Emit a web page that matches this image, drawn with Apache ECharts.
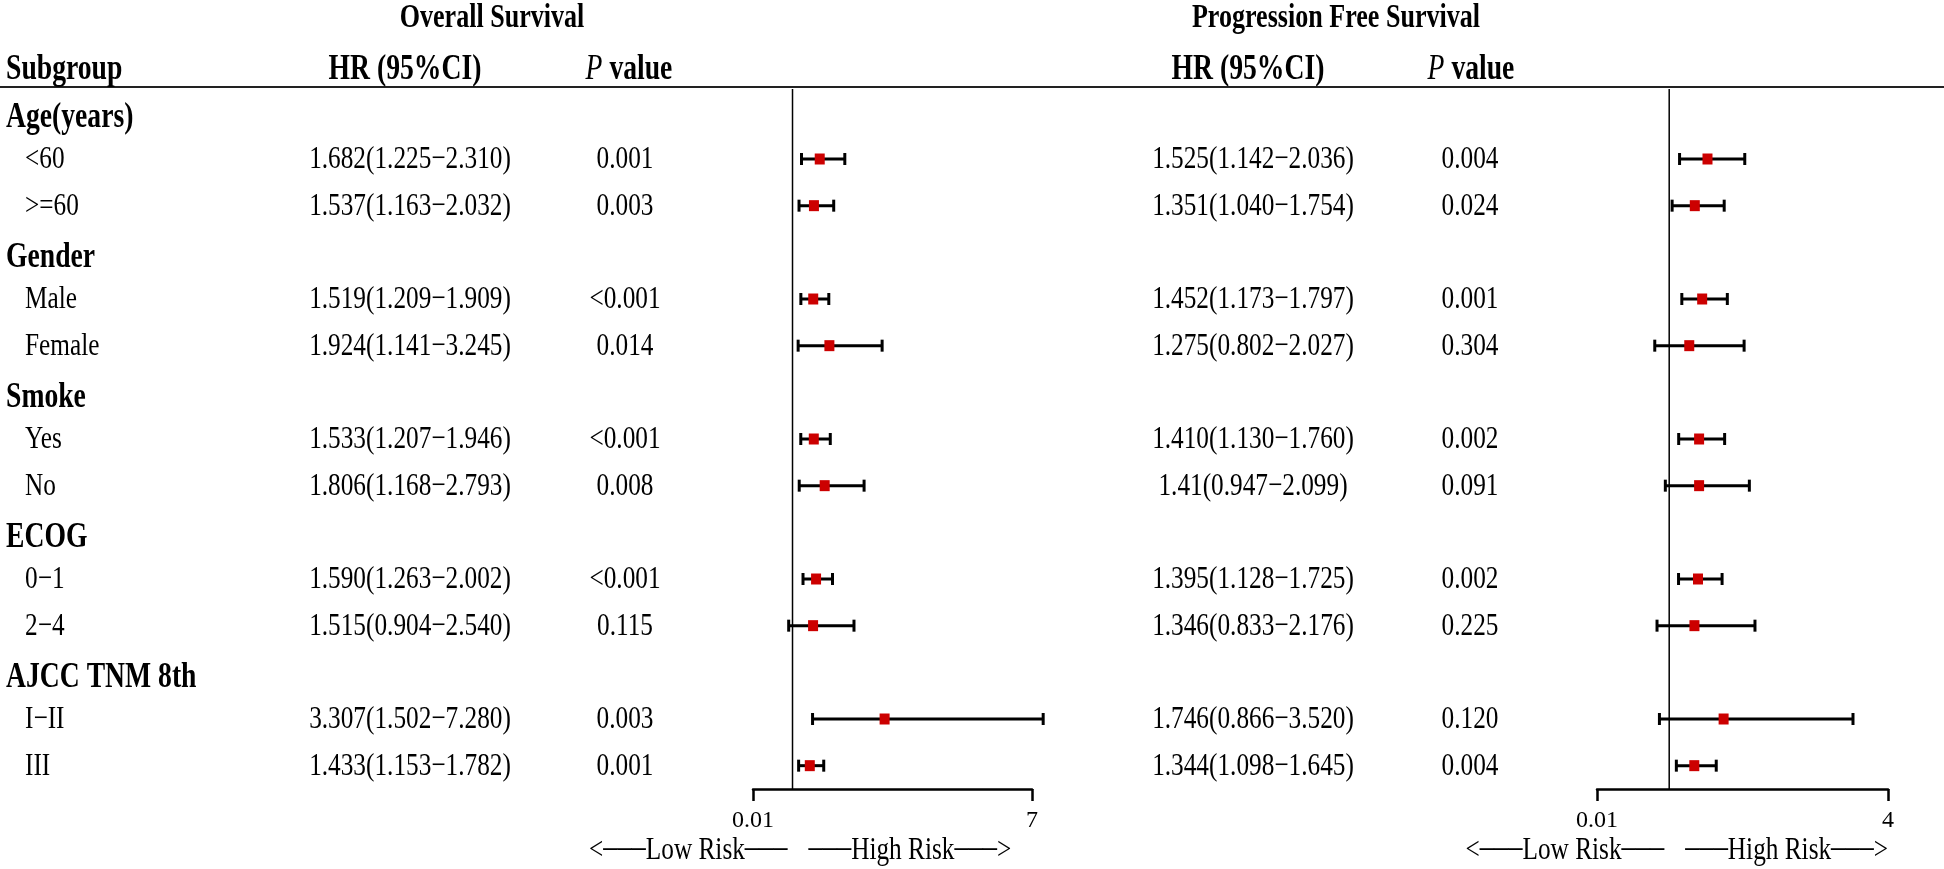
<!DOCTYPE html>
<html><head><meta charset="utf-8">
<script src="https://cdn.jsdelivr.net/npm/echarts@6/dist/echarts.min.js"></script>
<style>html,body{margin:0;padding:0;background:#fff}#c{width:1944px;height:869px}</style>
</head><body><div id="c"></div>
<script>
// ---------- data ----------
const groupNames = ['Age(years)', 'Gender', 'Smoke', 'ECOG', 'AJCC TNM 8th'];
const subgroups  = ['<60', '>=60', 'Male', 'Female', 'Yes', 'No', '0\u22121', '2\u22124', 'I\u2212II', 'III'];
const osHR   = ['1.682','1.537','1.519','1.924','1.533','1.806','1.590','1.515','3.307','1.433'];
const osLow  = ['1.225','1.163','1.209','1.141','1.207','1.168','1.263','0.904','1.502','1.153'];
const osHigh = ['2.310','2.032','1.909','3.245','1.946','2.793','2.002','2.540','7.280','1.782'];
const osP    = ['0.001','0.003','<0.001','0.014','<0.001','0.008','<0.001','0.115','0.003','0.001'];
const pfsHR   = ['1.525','1.351','1.452','1.275','1.410','1.41','1.395','1.346','1.746','1.344'];
const pfsLow  = ['1.142','1.040','1.173','0.802','1.130','0.947','1.128','0.833','0.866','1.098'];
const pfsHigh = ['2.036','1.754','1.797','2.027','1.760','2.099','1.725','2.176','3.520','1.645'];
const pfsP    = ['0.004','0.024','0.001','0.304','0.002','0.091','0.002','0.225','0.120','0.004'];
const osTicks  = [0.01, 7];
const pfsTicks = [0.01, 4];
const refValue = 1;

// ---------- layout ----------
const W = 1944, TOP = 89, H = 700, NROWS = 15;
const FONT = '"Liberation Serif","Times New Roman",serif';
const SX = 0.79;
const OS_L = 753, OS_W = 279, PFS_L = 1597, PFS_W = 291;
const rowOfGroup = g => g * 3;
const rowOfSub = i => Math.floor(i / 2) * 3 + 1 + (i % 2);
const MINUS = '\u2212';
const ciText = (hr, lo, hi, i) => hr[i] + '(' + lo[i] + MINUS + hi[i] + ')';

const colX = { group: 6, sub: 25, osHR: 410, osP: 625, pfsHR: 1253, pfsP: 1470 };
const textItems = [];
groupNames.forEach((g, gi) => textItems.push({ col: 'group', row: rowOfGroup(gi), text: g, bold: true }));
subgroups.forEach((s, i) => {
  const r = rowOfSub(i);
  textItems.push({ col: 'sub', row: r, text: s });
  textItems.push({ col: 'osHR', row: r, text: ciText(osHR, osLow, osHigh, i) });
  textItems.push({ col: 'osP', row: r, text: osP[i] });
  textItems.push({ col: 'pfsHR', row: r, text: ciText(pfsHR, pfsLow, pfsHigh, i) });
  textItems.push({ col: 'pfsP', row: r, text: pfsP[i] });
});

function textRender(params, api) {
  const t = textItems[params.dataIndex];
  const y = api.coord([0, api.value(1)])[1] + (t.bold ? 6 : 1);
  const left = (t.col === 'group' || t.col === 'sub');
  return {
    type: 'text', x: colX[t.col], y: y, scaleX: SX,
    style: {
      text: t.text, fill: '#000',
      font: (t.bold ? 'bold 35px ' : '32px ') + FONT,
      align: left ? 'left' : 'center', verticalAlign: 'middle'
    }
  };
}

function errRender(params, api) {
  const r = api.value(2);
  const lo = api.coord([api.value(0), r]);
  const hi = api.coord([api.value(1), r]);
  const y = lo[1], st = { stroke: '#000', lineWidth: 3 };
  return { type: 'group', children: [
    { type: 'line', shape: { x1: lo[0], y1: y, x2: hi[0], y2: y }, style: st },
    { type: 'line', shape: { x1: lo[0], y1: y - 6, x2: lo[0], y2: y + 6 }, style: st },
    { type: 'line', shape: { x1: hi[0], y1: y - 6, x2: hi[0], y2: y + 6 }, style: st }
  ]};
}

const errData = (lo, hi) => subgroups.map((s, i) => [Number(lo[i]), Number(hi[i]), rowOfSub(i)]);
const ptData = (hr) => subgroups.map((s, i) => [Number(hr[i]), rowOfSub(i)]);

function forestX(idx, ticks) {
  return {
    type: 'value', gridIndex: idx, min: ticks[0], max: ticks[ticks.length - 1], position: 'bottom',
    axisLine: { show: true, onZero: false, lineStyle: { color: '#000', width: 2.5 } },
    axisTick: { show: true, customValues: ticks, length: 12, inside: false, lineStyle: { color: '#000', width: 2.5 } },
    axisLabel: { show: true, customValues: ticks, margin: 20, color: '#000', fontSize: 24, fontFamily: FONT,
                 formatter: v => String(v) },
    splitLine: { show: false }
  };
}
function rowY(idx) {
  return { type: 'value', gridIndex: idx, min: -0.5, max: NROWS - 0.5, inverse: true, show: false };
}

const refPx = (L, Wd, ticks) => L + (refValue - ticks[0]) / (ticks[ticks.length - 1] - ticks[0]) * Wd;
const osRef = refPx(OS_L, OS_W, osTicks), pfsRef = refPx(PFS_L, PFS_W, pfsTicks);

function gtext(x, y, text, font, align, extra) {
  return Object.assign({ type: 'text', x: x, y: y, scaleX: SX,
    style: { text: text, font: font, fill: '#000', align: align, verticalAlign: 'middle' } }, extra || {});
}
const BOLD = 'bold 35px ' + FONT, REG = '32px ' + FONT;
const pRich = {
  i: { fontStyle: 'italic', fontSize: 35, fontFamily: FONT, fill: '#000' },
  b: { fontWeight: 'bold', fontSize: 35, fontFamily: FONT, fill: '#000' }
};
function pHeader(x) {
  return { type: 'text', x: x, y: 70, scaleX: SX,
    style: { text: '{i|P}{b| value}', rich: pRich, align: 'center', verticalAlign: 'middle' } };
}
const arrowRich = {
  t: { fontSize: 32, fontFamily: FONT, fill: '#000', verticalAlign: 'middle' },
  d: { fontSize: 36, fontFamily: FONT, fill: '#000', verticalAlign: 'middle', padding: [0, 0, 4, 0] }
};
const DASH = '{d|\u2013\u2013\u2013}';
function arrowText(x, y, text, align) {
  return { type: 'text', x: x, y: y, scaleX: SX,
    style: { text: text, rich: arrowRich, align: align, verticalAlign: 'middle' } };
}

const chart = echarts.init(document.getElementById('c'), null, { renderer: 'canvas' });
chart.setOption({
  animation: false,
  backgroundColor: '#fff',
  grid: [
    { left: 0, top: TOP, width: W, height: H },
    { left: OS_L, top: TOP, width: OS_W, height: H },
    { left: PFS_L, top: TOP, width: PFS_W, height: H }
  ],
  xAxis: [
    { type: 'value', gridIndex: 0, min: 0, max: W, show: false },
    forestX(1, osTicks),
    forestX(2, pfsTicks)
  ],
  yAxis: [rowY(0), rowY(1), rowY(2)],
  graphic: [
    { type: 'line', shape: { x1: 0, y1: 87, x2: W, y2: 87 }, style: { stroke: '#222', lineWidth: 2 } },
    gtext(492, 18, 'Overall Survival', 'bold 33px ' + FONT, 'center'),
    gtext(1336, 18, 'Progression Free Survival', 'bold 33px ' + FONT, 'center'),
    gtext(6, 70, 'Subgroup', BOLD, 'left'),
    gtext(405, 70, 'HR (95%CI)', BOLD, 'center'),
    gtext(1248, 70, 'HR (95%CI)', BOLD, 'center'),
    pHeader(629), pHeader(1471),
    arrowText(osRef - 5, 851, '{t|<}' + DASH + '{t|Low Risk}' + DASH, 'right'),
    arrowText(osRef + 16, 851, DASH + '{t|High Risk}' + DASH + '{t|>}', 'left'),
    arrowText(pfsRef - 5, 851, '{t|<}' + DASH + '{t|Low Risk}' + DASH, 'right'),
    arrowText(pfsRef + 16, 851, DASH + '{t|High Risk}' + DASH + '{t|>}', 'left')
  ],
  series: [
    { type: 'custom', xAxisIndex: 0, yAxisIndex: 0, renderItem: textRender,
      data: textItems.map((t, i) => [i, t.row]), silent: true },
    { type: 'line', xAxisIndex: 1, yAxisIndex: 1, data: [[refValue, -0.5], [refValue, NROWS - 0.5]],
      symbol: 'none', lineStyle: { color: '#000', width: 1.5 }, silent: true },
    { type: 'line', xAxisIndex: 2, yAxisIndex: 2, data: [[refValue, -0.5], [refValue, NROWS - 0.5]],
      symbol: 'none', lineStyle: { color: '#000', width: 1.5 }, silent: true },
    { type: 'custom', xAxisIndex: 1, yAxisIndex: 1, renderItem: errRender, clip: false,
      encode: { x: [0, 1], y: 2 }, data: errData(osLow, osHigh), z: 3 },
    { type: 'custom', xAxisIndex: 2, yAxisIndex: 2, renderItem: errRender, clip: false,
      encode: { x: [0, 1], y: 2 }, data: errData(pfsLow, pfsHigh), z: 3 },
    { type: 'scatter', xAxisIndex: 1, yAxisIndex: 1, data: ptData(osHR), symbol: 'rect',
      symbolSize: [10, 11], itemStyle: { color: '#CC0000', opacity: 1 }, z: 5 },
    { type: 'scatter', xAxisIndex: 2, yAxisIndex: 2, data: ptData(pfsHR), symbol: 'rect',
      symbolSize: [10, 11], itemStyle: { color: '#CC0000', opacity: 1 }, z: 5 }
  ]
});
</script></body></html>
